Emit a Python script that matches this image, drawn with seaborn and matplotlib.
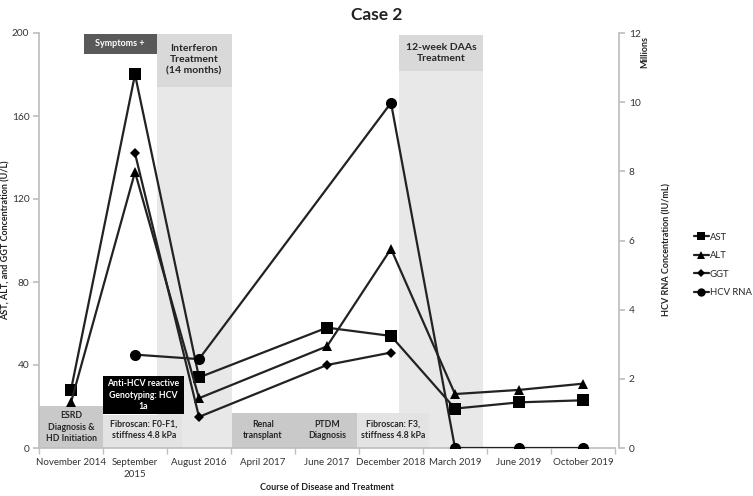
import numpy as np
import pandas as pd
import matplotlib
matplotlib.use("Agg")
import matplotlib.pyplot as plt
from matplotlib.patches import Rectangle
from matplotlib.lines import Line2D
import seaborn as sns

categories = ["November 2014", "September\n2015", "August 2016", "April 2017",
              "June 2017", "December 2018", "March 2019", "June 2019", "October 2019"]
ast = [28, 180, 34, np.nan, 58, 54, 19, 22, 23]
alt = [22, 133, 24, np.nan, 49, 96, 26, 28, 31]
ggt = [np.nan, 142, 15, np.nan, 40, 46, np.nan, np.nan, np.nan]
hcv_rna = [np.nan, 2.7, 2.57, np.nan, np.nan, 9.98, 0, 0, 0]  # millions

sns.set_theme(style="white")
plt.rcParams['font.family'] = ['Lato', 'DejaVu Sans']

pos = np.arange(len(categories))
df = pd.concat([
    pd.DataFrame({"pos": pos, "value": ast, "series": "AST"}),
    pd.DataFrame({"pos": pos, "value": alt, "series": "ALT"}),
    pd.DataFrame({"pos": pos, "value": ggt, "series": "GGT"}),
]).dropna()
df_hcv = pd.DataFrame({"pos": pos, "value": hcv_rna, "series": "HCV RNA"}).dropna()

fig = plt.figure(figsize=(7.53, 4.96), dpi=100)
ax = fig.add_axes([39/753, 1-448/496, (615-39)/753, (448-33)/496])
ax.set_xlim(-0.5, 8.5)
ax.set_ylim(0, 200)

lc = "#222222"
grey_txt = "#262626"

def px2x(px):
    return (px - 71) / 64.0

def py2y(py):
    return (448 - py) / 2.075

def box(x0, x1, y0, y1, color, z=0.5):
    ax.add_patch(Rectangle((px2x(x0), py2y(y1)), px2x(x1) - px2x(x0), py2y(y0) - py2y(y1),
                           facecolor=color, edgecolor="none", zorder=z))

# treatment bands
box(157, 232, 34, 448, "#e8e8e8", 0.2)
box(157, 232, 34, 87, "#d9d9d9", 0.3)
box(399, 483, 35, 448, "#e8e8e8", 0.2)
box(399, 483, 35, 71, "#d9d9d9", 0.3)
# event boxes
box(84, 157, 34, 54, "#595959", 0.4)
box(39, 103, 406, 448, "#c9c9c9", 0.4)
box(103, 182, 415, 448, "#e3e3e3", 0.4)
box(103, 184, 376, 414, "#000000", 0.4)
box(232, 357, 413, 448, "#c9c9c9", 0.4)
box(357, 429, 413, 448, "#e3e3e3", 0.4)

def txt(px, py, s, size=6.3, color=grey_txt):
    ax.text(px2x(px), py2y(py), s, ha="center", va="center", fontsize=size,
            fontweight="bold", color=color, linespacing=1.3, zorder=1)

txt(120, 44, "Symptoms +", 6.5, "white")
txt(194, 60, "Interferon\nTreatment\n(14 months)", 7.5)
txt(441, 53, "12-week DAAs\nTreatment", 7.5)
txt(71, 427, "ESRD\nDiagnosis &\nHD Initiation")
txt(144, 430, "Fibroscan: F0-F1,\nstiffness 4.8 kPa")
txt(143, 395, "Anti-HCV reactive\nGenotyping: HCV\n1a", 6.3, "white")
txt(263, 430, "Renal\ntransplant")
txt(327, 430, "PTDM\nDiagnosis")
txt(393, 430, "Fibroscan: F3,\nstiffness 4.8 kPa")

markers = {"AST": "s", "ALT": "^", "GGT": "D"}
sizes = {"AST": 8, "ALT": 7.5, "GGT": 5}
for name in ["AST", "ALT", "GGT"]:
    sub = df[df["series"] == name]
    sns.lineplot(data=sub, x="pos", y="value", ax=ax, color=lc, linewidth=1.6,
                 marker=markers[name], markersize=sizes[name], markeredgewidth=0,
                 markerfacecolor="black", zorder=3, legend=False)

ax2 = ax.twinx()
ax2.set_ylim(0, 12)
sns.lineplot(data=df_hcv, x="pos", y="value", ax=ax2, color=lc, linewidth=1.6,
             marker="o", markersize=8, markeredgewidth=0, markerfacecolor="black",
             zorder=3, legend=False)
ax2.set_xlim(-0.5, 8.5)

# axes styling
for a in (ax, ax2):
    for s in a.spines.values():
        s.set_visible(False)
    a.set_xlabel("")
    a.set_ylabel("")
ax.spines["left"].set_visible(True)
ax.spines["bottom"].set_visible(True)
ax.spines["left"].set_color("#bfbfbf")
ax.spines["bottom"].set_color("#bfbfbf")
ax2.spines["right"].set_visible(True)
ax2.spines["right"].set_color("#bfbfbf")
ax2.spines["right"].set_position(("outward", 3))

ax.set_yticks([0, 40, 80, 120, 160, 200])
ax.tick_params(axis="y", left=True, length=4, color="#bfbfbf", labelsize=7.3, labelcolor="#333333", pad=3)
ax.set_xticks(pos)
ax.set_xticklabels(categories)
ax.set_xticks(np.arange(-0.5, 9.0, 1.0), minor=True)
ax.tick_params(axis="x", which="major", length=0, labelsize=7, labelcolor="#333333", pad=7)
ax.tick_params(axis="x", which="minor", bottom=True, length=4, color="#bfbfbf")
for lab in ax.get_xticklabels():
    lab.set_linespacing(1.4)

ax2.set_yticks([0, 2, 4, 6, 8, 10, 12])
ax2.tick_params(axis="y", right=True, length=4, color="#bfbfbf", labelsize=7.3, labelcolor="#333333", pad=3)

fig.text(377/753, 1-15/496, "Case 2", ha="center", va="center", fontsize=12.5, fontweight="bold", color="#222222")
fig.text(6/753, 1-240/496, "AST, ALT, and GGT Concentration (U/L)", rotation=90, ha="center", va="center",
         fontsize=6.5, fontweight="bold", color="#222222")
fig.text(327/753, 1-487/496, "Course of Disease and Treatment", ha="center", va="center",
         fontsize=6.5, fontweight="bold", color="#222222")
fig.text(645/753, 1-52/496, "Millions", rotation=90, ha="center", va="center",
         fontsize=6.5, fontweight="bold", color="#222222")
fig.text(667/753, 1-250/496, "HCV RNA Concentration (IU/mL)", rotation=90, ha="center", va="center",
         fontsize=6.5, fontweight="bold", color="#222222")

handles = [
    Line2D([], [], color=lc, lw=1.6, marker="s", markersize=6, markeredgewidth=0, markerfacecolor="black"),
    Line2D([], [], color=lc, lw=1.6, marker="^", markersize=6, markeredgewidth=0, markerfacecolor="black"),
    Line2D([], [], color=lc, lw=1.6, marker="D", markersize=4, markeredgewidth=0, markerfacecolor="black"),
    Line2D([], [], color=lc, lw=1.6, marker="o", markersize=6, markeredgewidth=0, markerfacecolor="black"),
]
fig.legend(handles, ["AST", "ALT", "GGT", "HCV RNA"], loc="upper left",
           bbox_to_anchor=(689/753, 1-228/496), frameon=False, fontsize=6.8,
           handlelength=1.6, handletextpad=0.1, labelspacing=1.0, borderpad=0)

fig.savefig("out.png", dpi=100)
